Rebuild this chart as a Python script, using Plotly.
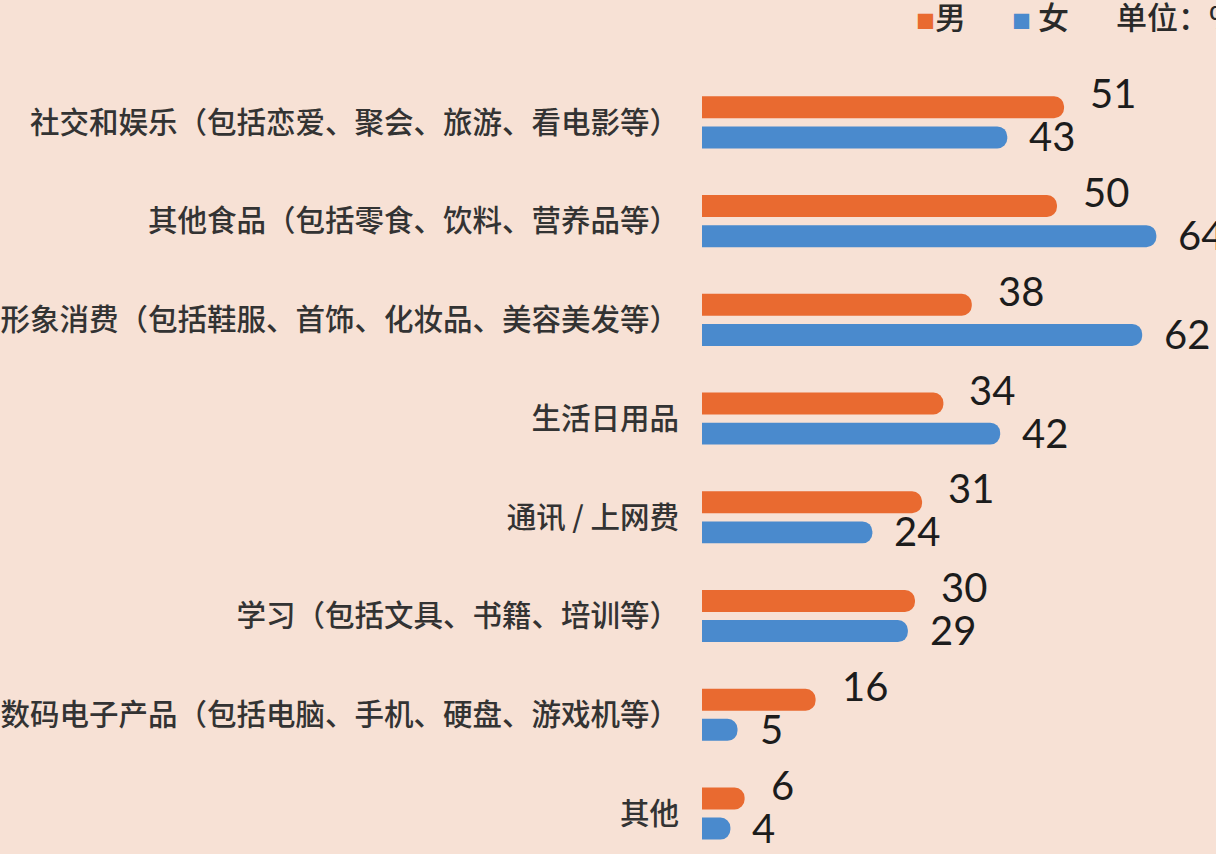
import plotly.graph_objects as go

categories = [
    "社交和娱乐（包括恋爱、聚会、旅游、看电影等）",
    "其他食品（包括零食、饮料、营养品等）",
    "形象消费（包括鞋服、首饰、化妆品、美容美发等）",
    "生活日用品",
    "通讯 / 上网费",
    "学习（包括文具、书籍、培训等）",
    "数码电子产品（包括电脑、手机、硬盘、游戏机等）",
    "其他",
]
male = [51, 50, 38, 34, 31, 30, 16, 6]
female = [43, 64, 62, 42, 24, 29, 5, 4]

ORANGE = "#e96a30"
BLUE = "#4a8acd"
BG = "#f7e1d5"

fig = go.Figure()
fig.add_trace(go.Bar(y=categories, x=male, orientation="h", name="男",
                     marker=dict(color=ORANGE, line=dict(width=0))))
fig.add_trace(go.Bar(y=categories, x=female, orientation="h", name="女",
                     marker=dict(color=BLUE, line=dict(width=0))))

annotations = []
num_font = dict(family="Lato", size=40, color="#1c1c1c")
for c, m, f in zip(categories, male, female):
    annotations.append(dict(x=m, y=c, xref="x", yref="y", text=str(m), showarrow=False,
                            xanchor="left", yanchor="middle", xshift=24, yshift=29,
                            font=num_font))
    annotations.append(dict(x=f, y=c, xref="x", yref="y", text=str(f), showarrow=False,
                            xanchor="left", yanchor="middle", xshift=20, yshift=-14,
                            font=num_font))

legend_font = dict(family="Noto Sans CJK SC", size=31, color="#2a2a2a", weight=500)
annotations.append(dict(xref="paper", yref="paper", x=(914 - 702) / 514, y=1, yshift=58,
                        xanchor="left", yanchor="middle", showarrow=False,
                        text=f"<span style='color:{ORANGE};font-size:19px'>■</span>男", font=legend_font))
annotations.append(dict(xref="paper", yref="paper", x=(1010 - 702) / 514, y=1, yshift=58,
                        xanchor="left", yanchor="middle", showarrow=False,
                        text=f"<span style='color:{BLUE};font-size:19px'>■</span> 女", font=legend_font))
annotations.append(dict(xref="paper", yref="paper", x=(1114 - 702) / 514, y=1, yshift=58,
                        xanchor="left", yanchor="middle", showarrow=False,
                        text="单位：%", font=legend_font))

fig.update_layout(
    width=1216, height=854,
    margin=dict(l=702, r=0, t=73, b=0),
    paper_bgcolor=BG, plot_bgcolor=BG,
    barmode="group", bargap=0.39, bargroupgap=0.27,
    barcornerradius=11,
    showlegend=False,
    annotations=annotations,
    xaxis=dict(range=[0, 72.4], visible=False, showgrid=False, zeroline=False, fixedrange=True),
    yaxis=dict(range=[7.41, -0.5], showgrid=False, zeroline=False, showline=False, ticks="",
               ticklabelstandoff=22, fixedrange=True,
               tickfont=dict(family="Noto Sans CJK SC", size=29.5, color="#333333", weight=500)),
)

fig.write_html("out.html",
               config={"displayModeBar": False},
               post_script="document.body.style.margin='0';document.body.style.overflow='hidden';window.dispatchEvent(new Event('resize'));")
